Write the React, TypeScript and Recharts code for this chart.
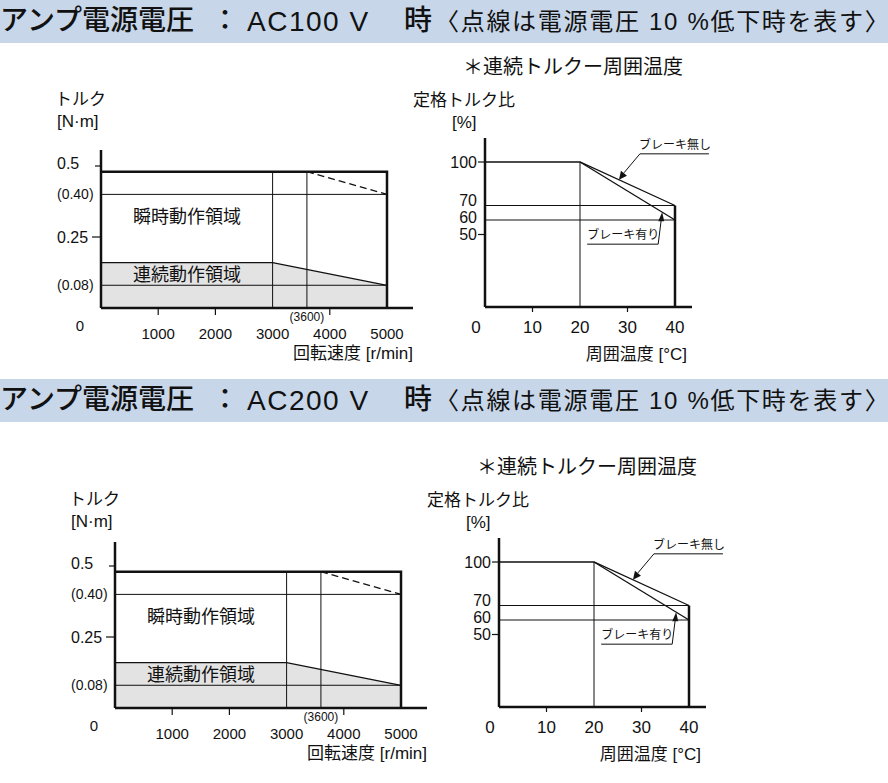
import React from "react";
import {
  ComposedChart,
  Area,
  Line,
  XAxis,
  YAxis,
  ReferenceLine,
  ReferenceDot,
} from "recharts";

const FONT = "'Liberation Sans', 'Noto Sans CJK JP', sans-serif";
const INK = "#111";

// --- torque / speed chart ---
const speedTicks = [0, 1000, 2000, 3000, 3600, 4000, 5000];
const speedTickLabels = ["0", "1000", "2000", "3000", "(3600)", "4000", "5000"];
const torqueTicks = [0.5, 0.4, 0.25, 0.08];
const torqueTickLabels = ["0.5", "(0.40)", "0.25", "(0.08)"];

// continuous zone (shaded) and peak zone outline
const continuousZone = [
  { rpm: 0, torque: 0.16 },
  { rpm: 3000, torque: 0.16 },
  { rpm: 5000, torque: 0.08 },
];
const peakZone = [
  { rpm: 0, torque: 0.48 },
  { rpm: 5000, torque: 0.48 },
  { rpm: 5000, torque: 0 },
];
// dashed: supply voltage -10%
const peakLowVoltage = [
  { rpm: 3600, torque: 0.48 },
  { rpm: 5000, torque: 0.4 },
];
const speedGuides = [3000, 3600];
const torqueGuides = [0.4, 0.08];

// --- derating chart ---
const tempTicks = [0, 10, 20, 30, 40];
const ratioTicks = [100, 70, 60, 50];
const noBrakeCurve = [
  { temp: 0, ratio: 100 },
  { temp: 20, ratio: 100 },
  { temp: 40, ratio: 70 },
];
const brakeCurve = [
  { temp: 20, ratio: 100 },
  { temp: 40, ratio: 60 },
];
const limitEdge = [
  { temp: 40, ratio: 0 },
  { temp: 40, ratio: 70 },
];
const ratioGuides = [70, 60];
const noBrakeMark = { temp: 28.2, ratio: 87.7 };
const brakeMark = { temp: 37.3, ratio: 65.4 };

function Txt(props: any) {
  const { children, style, ...rest } = props;
  return (
    <span
      style={{
        position: "absolute",
        fontFamily: FONT,
        color: INK,
        whiteSpace: "nowrap",
        lineHeight: 1,
        ...style,
      }}
      {...rest}
    >
      {children}
    </span>
  );
}

function Header({ top, volt }: { top: number; volt: string }) {
  return (
    <div
      style={{
        position: "absolute",
        left: 0,
        top,
        width: 888,
        height: 43,
        background: "#c7d6e8",
        fontFamily: FONT,
        color: "#000",
      }}
    >
      <Txt style={{ left: 0, top: 7, fontSize: 28, fontWeight: 500 }}>
        アンプ電源電圧
      </Txt>
      <Txt style={{ left: 211, top: 7, fontSize: 28, fontWeight: 500 }}>：</Txt>
      <Txt style={{ left: 247, top: 8, fontSize: 28, letterSpacing: 1.5 }}>
        {"AC" + volt + " V"}
      </Txt>
      <Txt style={{ left: 404, top: 7, fontSize: 28, fontWeight: 500 }}>時</Txt>
      <Txt style={{ left: 435, top: 10, fontSize: 24, letterSpacing: 1.7 }}>
        〈点線は電源電圧 10 %低下時を表す<span style={{ letterSpacing: -11 }}>〉</span>
      </Txt>
    </div>
  );
}

function TorqueSpeedChart({ ox, oy, topY }: { ox: number; oy: number; topY: number }) {
  const PAD_L = 61;
  const PAD_T = 70;
  const W = 380;
  const plotW = 312;
  const plotH = oy - topY;
  const H = PAD_T + plotH + 72;
  const yMax = plotH / 284;
  const xMax = plotW / 0.0572;
  const baseY = PAD_T + plotH;

  const speedTick = (p: any) => {
    const v = p.payload.value;
    const i = speedTicks.indexOf(v);
    const x = p.x;
    if (v === 0) {
      return (
        <text x={x - 21} y={baseY + 17} fontSize={15} fontFamily={FONT} fill={INK}
          textAnchor="middle" dominantBaseline="central">{speedTickLabels[i]}</text>
      );
    }
    if (v === 3600) {
      return (
        <text x={x} y={baseY + 9} fontSize={12} fontFamily={FONT} fill={INK}
          textAnchor="middle" dominantBaseline="central">{speedTickLabels[i]}</text>
      );
    }
    const mark = v === 1000 || v === 2000 || v === 4000;
    return (
      <g>
        {mark && <line x1={x} x2={x} y1={baseY} y2={baseY + 7} stroke={INK} strokeWidth={1.2} />}
        <text x={x} y={baseY + 25} fontSize={15} fontFamily={FONT} fill={INK}
          textAnchor="middle" dominantBaseline="central">{speedTickLabels[i]}</text>
      </g>
    );
  };

  const torqueTick = (p: any) => {
    const v = p.payload.value;
    const i = torqueTicks.indexOf(v);
    const small = torqueTickLabels[i].startsWith("(");
    const mark = v === 0.5 || v === 0.25;
    return (
      <g>
        {mark && (
          <line x1={PAD_L - (v === 0.5 ? 6 : 9)} x2={PAD_L} y1={p.y} y2={p.y} stroke={INK} strokeWidth={1.2} />
        )}
        <text x={PAD_L - 44} y={p.y + (v === 0.5 ? -3 : 0)} fontSize={small ? 14 : 16}
          fontFamily={FONT} fill={INK} textAnchor="start" dominantBaseline="central">
          {torqueTickLabels[i]}
        </text>
      </g>
    );
  };

  return (
    <>
      <div style={{ position: "absolute", left: ox - PAD_L, top: topY - PAD_T, width: W, height: H }}>
        <ComposedChart
          width={W}
          height={H}
          data={continuousZone}
          margin={{ top: PAD_T, right: W - PAD_L - plotW, bottom: 32, left: PAD_L - 40 }}
        >
          <XAxis
            type="number"
            dataKey="rpm"
            domain={[0, xMax]}
            ticks={speedTicks}
            interval={0}
            tickLine={false}
            tick={speedTick}
            axisLine={{ stroke: INK, strokeWidth: 2.5 }}
            height={40}
            allowDataOverflow
          />
          <YAxis
            type="number"
            domain={[0, yMax]}
            ticks={torqueTicks}
            interval={0}
            tickLine={false}
            tick={torqueTick}
            axisLine={{ stroke: INK, strokeWidth: 2.5 }}
            width={40}
            allowDataOverflow
          />
          <Area
            type="linear"
            dataKey="torque"
            fill="#e3e3e3"
            fillOpacity={1}
            stroke={INK}
            strokeWidth={1.3}
            dot={false}
            activeDot={false}
            isAnimationActive={false}
          />
          {torqueGuides.map((t) => (
            <ReferenceLine key={"h" + t} segment={[{ x: 0, y: t }, { x: 5000, y: t }]} stroke={INK} strokeWidth={1} />
          ))}
          {speedGuides.map((s) => (
            <ReferenceLine key={"v" + s} segment={[{ x: s, y: 0 }, { x: s, y: 0.48 }]} stroke={INK} strokeWidth={1} />
          ))}
          <Line
            data={peakLowVoltage}
            dataKey="torque"
            type="linear"
            stroke={INK}
            strokeWidth={1.3}
            strokeDasharray="7 4"
            dot={false}
            activeDot={false}
            isAnimationActive={false}
          />
          <Line
            data={peakZone}
            dataKey="torque"
            type="linear"
            stroke={INK}
            strokeWidth={2.5}
            dot={false}
            activeDot={false}
            isAnimationActive={false}
          />
        </ComposedChart>
      </div>
      <Txt style={{ left: ox - 46, top: oy - 217, fontSize: 17 }}>トルク</Txt>
      <Txt style={{ left: ox - 44, top: oy - 195, fontSize: 17 }}>[N·m]</Txt>
      <Txt style={{ left: ox + 32, top: oy - 100, fontSize: 18 }}>瞬時動作領域</Txt>
      <Txt style={{ left: ox + 32, top: oy - 42, fontSize: 18 }}>連続動作領域</Txt>
      <Txt style={{ right: 888 - (ox + 312), top: oy + 37, fontSize: 17 }}>回転速度 [r/min]</Txt>
    </>
  );
}

function DeratingChart({ ox, oy, topY }: { ox: number; oy: number; topY: number }) {
  const PAD_L = 85;
  const PAD_T = 58;
  const W = 330;
  const plotW = 207;
  const plotH = oy - topY;
  const H = PAD_T + plotH + 63;
  const xMax = plotW / 4.75;
  const yMax = plotH / 1.45;
  const baseY = PAD_T + plotH;

  const tempTick = (p: any) => {
    const v = p.payload.value;
    const x = p.x;
    const mark = v === 10 || v === 30;
    return (
      <g>
        {mark && <line x1={x} x2={x} y1={baseY} y2={baseY + 5} stroke={INK} strokeWidth={1.2} />}
        <text x={v === 0 ? x - 9 : x} y={baseY + 20} fontSize={17} fontFamily={FONT} fill={INK}
          textAnchor="middle" dominantBaseline="central">{String(v)}</text>
      </g>
    );
  };

  const ratioTick = (p: any) => {
    const v = p.payload.value;
    const mark = v === 100 || v === 50;
    const dy = v === 70 ? -5 : v === 60 ? -3 : 0;
    return (
      <g>
        {mark && <line x1={PAD_L - 7} x2={PAD_L} y1={p.y} y2={p.y} stroke={INK} strokeWidth={1.2} />}
        <text x={PAD_L - 8} y={p.y + dy} fontSize={16} fontFamily={FONT} fill={INK}
          textAnchor="end" dominantBaseline="central">{String(v)}</text>
      </g>
    );
  };

  const noBrakeShape = (p: any) => {
    const { cx, cy } = p;
    return (
      <g>
        <line x1={cx + 5} y1={cy - 7} x2={cx + 21} y2={cy - 26} stroke={INK} strokeWidth={1} />
        <line x1={cx + 21} y1={cy - 26} x2={cx + 90} y2={cy - 26} stroke={INK} strokeWidth={1} />
        <polygon
          points={`${cx},${cy} ${cx + 2},${cy - 9} ${cx + 8},${cy - 4}`}
          fill={INK}
        />
        <text x={cx + 20} y={cy - 35} fontSize={12} fontFamily={FONT} fill={INK} dominantBaseline="central">
          ブレーキ無し
        </text>
      </g>
    );
  };

  const brakeShape = (p: any) => {
    const { cx, cy } = p;
    return (
      <g>
        <line x1={cx - 1} y1={cy + 8} x2={cx - 4} y2={cy + 32} stroke={INK} strokeWidth={1} />
        <line x1={cx - 4} y1={cy + 32} x2={cx - 75} y2={cy + 32} stroke={INK} strokeWidth={1} />
        <polygon
          points={`${cx},${cy} ${cx - 4},${cy + 9} ${cx + 2},${cy + 9}`}
          fill={INK}
        />
        <text x={cx - 75} y={cy + 23} fontSize={12} fontFamily={FONT} fill={INK} dominantBaseline="central">
          ブレーキ有り
        </text>
      </g>
    );
  };

  return (
    <>
      <div style={{ position: "absolute", left: ox - PAD_L, top: topY - PAD_T, width: W, height: H }}>
        <ComposedChart
          width={W}
          height={H}
          data={noBrakeCurve}
          margin={{ top: PAD_T, right: W - PAD_L - plotW, bottom: 23, left: PAD_L - 40 }}
        >
          <XAxis
            type="number"
            dataKey="temp"
            domain={[0, xMax]}
            ticks={tempTicks}
            interval={0}
            tickLine={false}
            tick={tempTick}
            axisLine={{ stroke: INK, strokeWidth: 2.5 }}
            height={40}
            allowDataOverflow
          />
          <YAxis
            type="number"
            domain={[0, yMax]}
            ticks={ratioTicks}
            interval={0}
            tickLine={false}
            tick={ratioTick}
            axisLine={{ stroke: INK, strokeWidth: 2.5 }}
            width={40}
            allowDataOverflow
          />
          {ratioGuides.map((r) => (
            <ReferenceLine key={"h" + r} segment={[{ x: 0, y: r }, { x: 40, y: r }]} stroke={INK} strokeWidth={1} />
          ))}
          <ReferenceLine segment={[{ x: 20, y: 0 }, { x: 20, y: 100 }]} stroke={INK} strokeWidth={1} />
          <Line
            dataKey="ratio"
            type="linear"
            stroke={INK}
            strokeWidth={1.3}
            dot={false}
            activeDot={false}
            isAnimationActive={false}
          />
          <Line
            data={brakeCurve}
            dataKey="ratio"
            type="linear"
            stroke={INK}
            strokeWidth={1.3}
            dot={false}
            activeDot={false}
            isAnimationActive={false}
          />
          <Line
            data={limitEdge}
            dataKey="ratio"
            type="linear"
            stroke={INK}
            strokeWidth={2.5}
            dot={false}
            activeDot={false}
            isAnimationActive={false}
          />
          <ReferenceDot x={noBrakeMark.temp} y={noBrakeMark.ratio} r={0} shape={noBrakeShape} />
          <ReferenceDot x={brakeMark.temp} y={brakeMark.ratio} r={0} shape={brakeShape} />
        </ComposedChart>
      </div>
      <Txt style={{ left: ox - 22, top: oy - 250, fontSize: 20 }}>＊連続トルクー周囲温度</Txt>
      <Txt style={{ left: ox - 72, top: oy - 215, fontSize: 17 }}>定格トルク比</Txt>
      <Txt style={{ left: ox - 33, top: oy - 193, fontSize: 17 }}>[%]</Txt>
      <Txt style={{ right: 888 - (ox + 202), top: oy + 39, fontSize: 17 }}>周囲温度 [°C]</Txt>
    </>
  );
}

export default function App() {
  return (
    <div
      style={{
        position: "absolute",
        left: 0,
        top: 0,
        width: 888,
        height: 783,
        background: "#fff",
        overflow: "hidden",
      }}
    >
      <Header top={0} volt="100" />
      <TorqueSpeedChart ox={101} oy={308} topY={150} />
      <DeratingChart ox={485} oy={307} topY={138} />
      <Header top={379} volt="200" />
      <TorqueSpeedChart ox={115} oy={708} topY={542} />
      <DeratingChart ox={499} oy={707} topY={538} />
    </div>
  );
}
